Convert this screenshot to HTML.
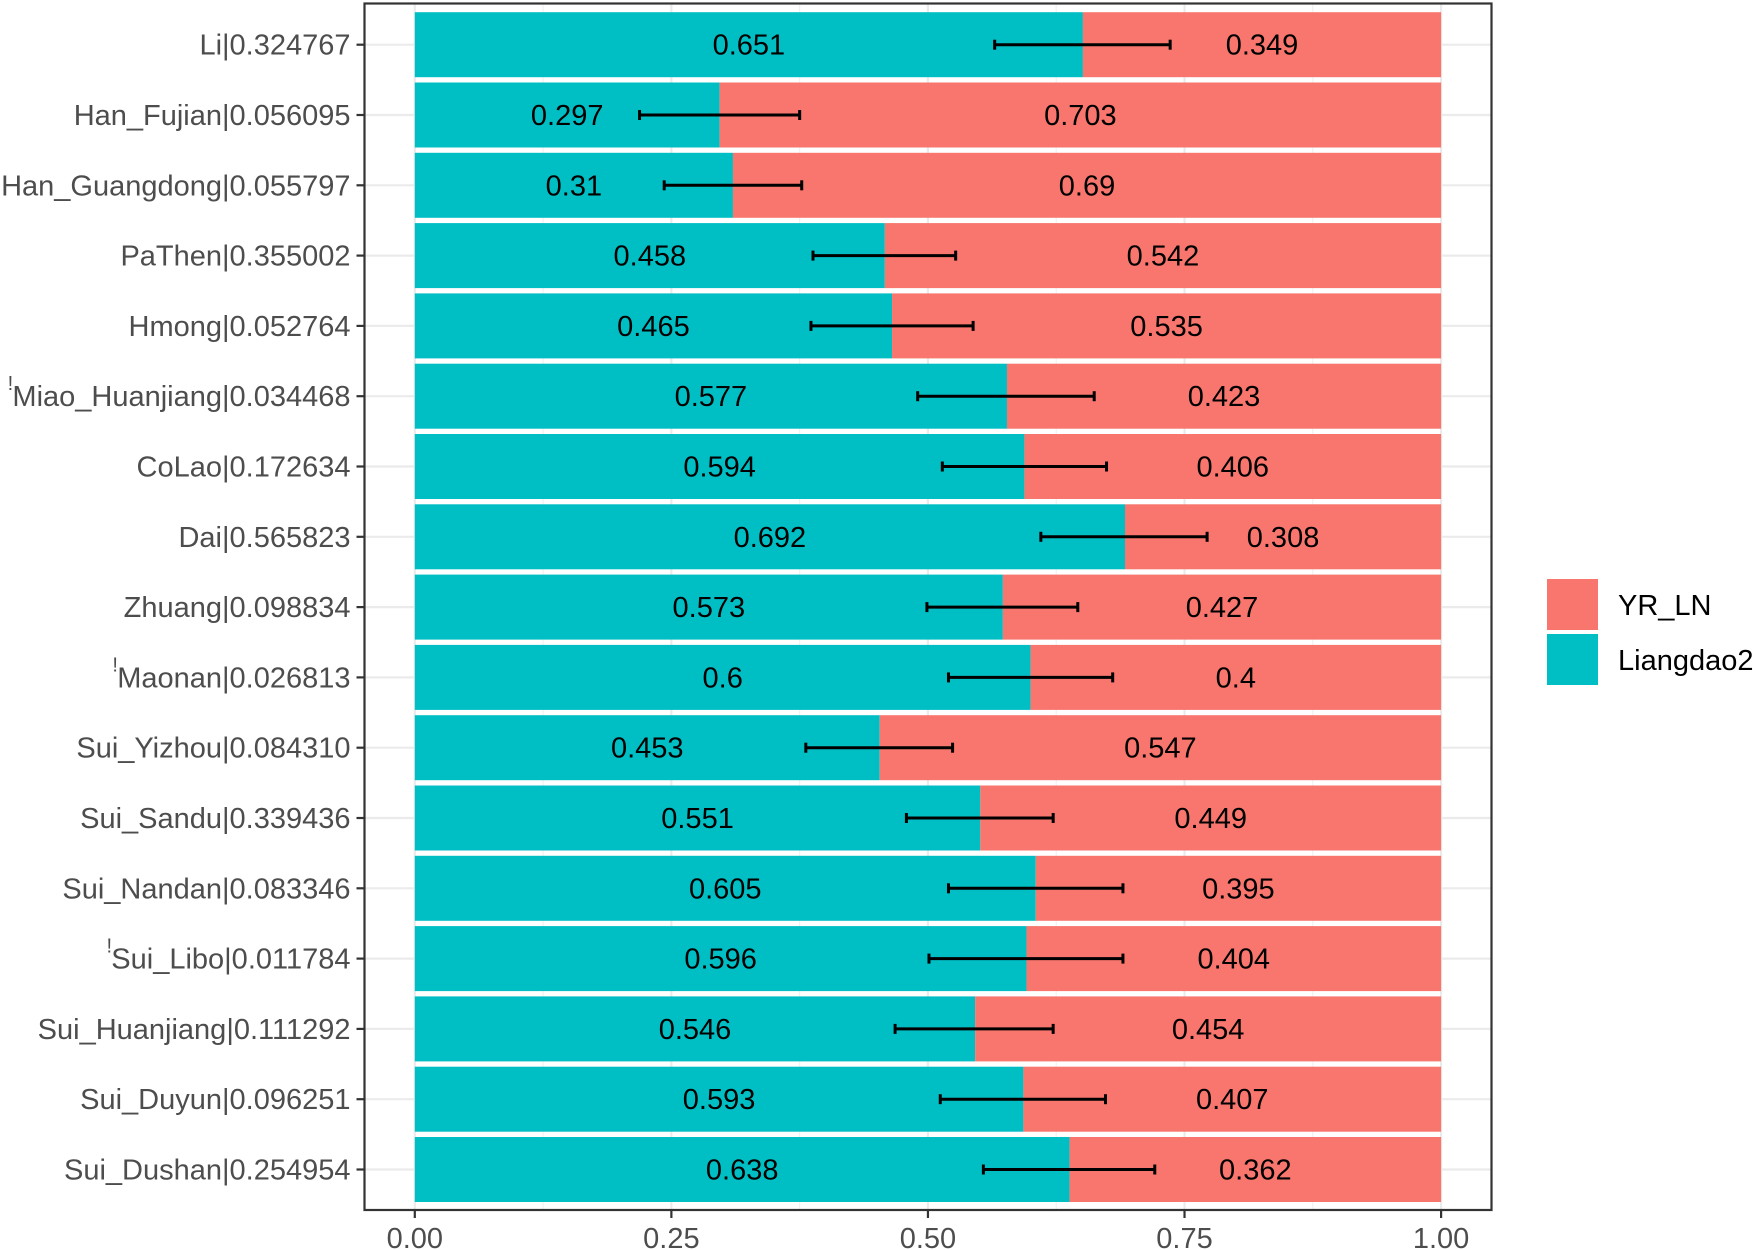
<!DOCTYPE html>
<html><head><meta charset="utf-8"><style>body{margin:0;background:#fff}svg{display:block}</style></head>
<body>
<svg id="chart" width="1753" height="1250" xmlns="http://www.w3.org/2000/svg" font-family="Liberation Sans, sans-serif"></svg>
<script>
const categories=["Li|0.324767","Han_Fujian|0.056095","Han_Guangdong|0.055797","PaThen|0.355002","Hmong|0.052764","Miao_Huanjiang|0.034468","CoLao|0.172634","Dai|0.565823","Zhuang|0.098834","Maonan|0.026813","Sui_Yizhou|0.084310","Sui_Sandu|0.339436","Sui_Nandan|0.083346","Sui_Libo|0.011784","Sui_Huanjiang|0.111292","Sui_Duyun|0.096251","Sui_Dushan|0.254954"];
const flagged=[false,false,false,false,false,true,false,false,false,true,false,false,false,true,false,false,false];
const liangdao=[0.651,0.297,0.31,0.458,0.465,0.577,0.594,0.692,0.573,0.6,0.453,0.551,0.605,0.596,0.546,0.593,0.638];
const yrln=[0.349,0.703,0.69,0.542,0.535,0.423,0.406,0.308,0.427,0.4,0.547,0.449,0.395,0.404,0.454,0.407,0.362];
const errLow=[0.565,0.219,0.243,0.388,0.386,0.490,0.514,0.610,0.499,0.520,0.381,0.479,0.520,0.501,0.468,0.512,0.554];
const errHigh=[0.736,0.375,0.377,0.527,0.544,0.662,0.674,0.772,0.646,0.680,0.524,0.622,0.690,0.690,0.622,0.673,0.721];
const xTicks=[0,0.25,0.5,0.75,1];
const xTickLabels=["0.00","0.25","0.50","0.75","1.00"];

const svg=document.getElementById('chart');
const NS="http://www.w3.org/2000/svg";
const PL=364.5,PR=1491.5,PT=3.5,PB=1210;
const X0=414.8,X1=1441.1;
const FS=29;
const x=v=>X0+(X1-X0)*v;
const Y0=44.7,STEP=70.3,BH=65;
const y=i=>Y0+STEP*i;
function mk(tag,attrs,parent){const e=document.createElementNS(NS,tag);for(const k in attrs)e.setAttribute(k,attrs[k]);(parent||svg).appendChild(e);return e;}

const panel=mk('g',{});


mk('rect',{x:PL,y:PT,width:PR-PL,height:PB-PT,fill:'#fff'},panel);
[0.125,0.375,0.625,0.875].forEach(v=>mk('line',{x1:x(v),x2:x(v),y1:PT,y2:PB,stroke:'#f2f2f2','stroke-width':1.2},panel));
xTicks.forEach(v=>mk('line',{x1:x(v),x2:x(v),y1:PT,y2:PB,stroke:'#ebebeb','stroke-width':2.2},panel));
categories.forEach((c,i)=>mk('line',{x1:PL,x2:PR,y1:y(i),y2:y(i),stroke:'#ebebeb','stroke-width':2.2},panel));

categories.forEach((c,i)=>{
  const g=mk('g',{});
  
  
  const cy=y(i);
  const b1=mk('rect',{x:x(0),y:cy-BH/2,width:x(liangdao[i])-x(0),height:BH,fill:'#00BFC4'},g);
  
  
  const b2=mk('rect',{x:x(liangdao[i]),y:cy-BH/2,width:x(liangdao[i]+yrln[i])-x(liangdao[i]),height:BH,fill:'#F8766D'},g);
  
  
  const t1=mk('text',{x:x(liangdao[i]/2),y:cy+10,'font-size':FS,'text-anchor':'middle',fill:'#000'},g);
  t1.textContent=String(liangdao[i]);
  
  
  const t2=mk('text',{x:x(liangdao[i]+yrln[i]/2),y:cy+10,'font-size':FS,'text-anchor':'middle',fill:'#000'},g);
  t2.textContent=String(yrln[i]);
  
  
  const eb=mk('g',{stroke:'#000','stroke-width':3},g);
  
  
  mk('line',{x1:x(errLow[i]),x2:x(errHigh[i]),y1:cy,y2:cy},eb);
  mk('line',{x1:x(errLow[i]),x2:x(errLow[i]),y1:cy-5,y2:cy+5},eb);
  mk('line',{x1:x(errHigh[i]),x2:x(errHigh[i]),y1:cy-5,y2:cy+5},eb);
  mk('line',{x1:PL-8,x2:PL,y1:cy,y2:cy,stroke:'#333','stroke-width':2.2});
  const lab=mk('text',{x:PL-14,y:cy+10,'font-size':FS,'text-anchor':'end',fill:'#4d4d4d'});
  lab.textContent=c;
  
  
  if(flagged[i]){
    const w=lab.getComputedTextLength();
    const f=mk('text',{x:PL-14-w-2,y:cy-6,'font-size':20,'text-anchor':'middle',fill:'#4d4d4d'});
    f.textContent='!';
    
    
  }
});
mk('rect',{x:PL,y:PT,width:PR-PL,height:PB-PT,fill:'none',stroke:'#333','stroke-width':2.2});
xTicks.forEach((v,k)=>{
  mk('line',{x1:x(v),x2:x(v),y1:PB,y2:PB+8,stroke:'#333','stroke-width':2.2});
  const t=mk('text',{x:x(v),y:PB+38,'font-size':FS,'text-anchor':'middle',fill:'#4d4d4d'});
  t.textContent=xTickLabels[k];
  
  
});
const lg=mk('g',{});


const l1=mk('rect',{x:1547,y:579,width:51,height:51,fill:'#F8766D'},lg);


const lt1=mk('text',{x:1618,y:615,'font-size':FS,fill:'#000'},lg);
lt1.textContent='YR_LN';


const l2=mk('rect',{x:1547,y:634,width:51,height:51,fill:'#00BFC4'},lg);


const lt2=mk('text',{x:1618,y:670,'font-size':FS,fill:'#000'},lg);
lt2.textContent='Liangdao2';


</script>
</body></html>
